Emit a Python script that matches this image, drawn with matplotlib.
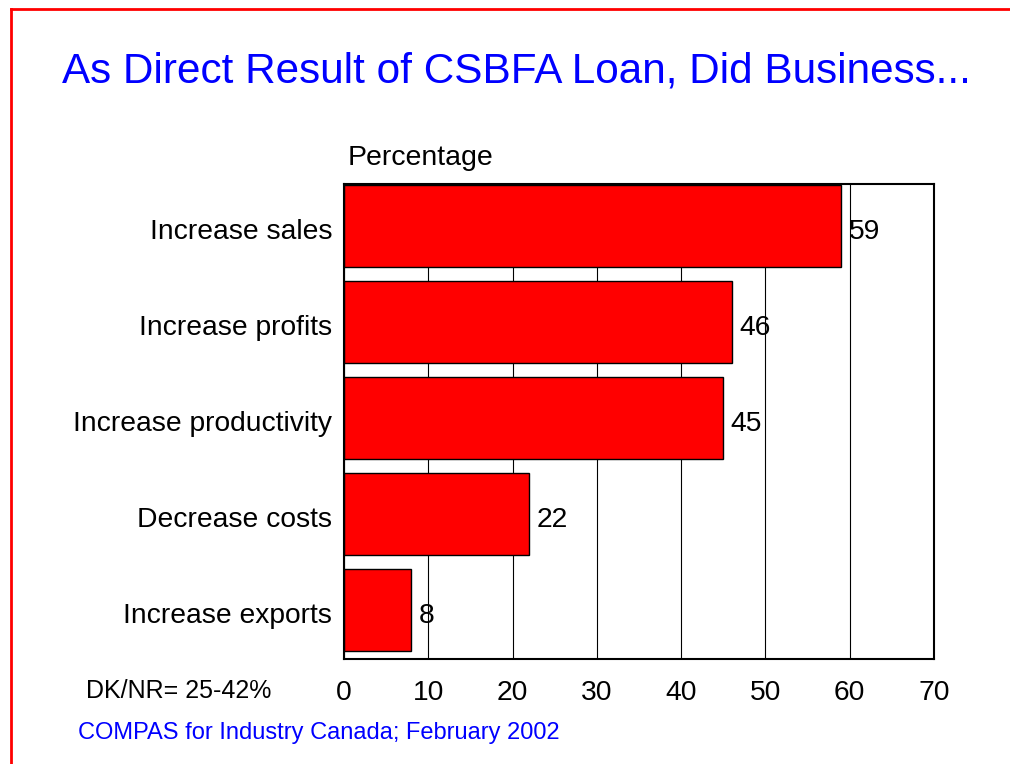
import matplotlib
matplotlib.use("Agg")
import matplotlib.pyplot as plt
from matplotlib.lines import Line2D
from matplotlib.transforms import ScaledTranslation

plt.rcParams['font.family'] = ['Liberation Sans', 'DejaVu Sans']

categories = ["Increase sales", "Increase profits", "Increase productivity",
              "Decrease costs", "Increase exports"]
values = [59, 46, 45, 22, 8]
xticks = [0, 10, 20, 30, 40, 50, 60, 70]

W, H = 1010, 764
fig = plt.figure(figsize=(W / 100, H / 100), dpi=100)

# page frame (top and left edges visible)
fig.add_artist(Line2D([11 / W, 11 / W], [0, 1 - 9 / H], color='red', lw=2,
                      transform=fig.transFigure))
fig.add_artist(Line2D([11 / W, 1], [1 - 9 / H, 1 - 9 / H], color='red', lw=2,
                      transform=fig.transFigure))

ax = fig.add_axes([344 / W, 1 - 659 / H, (934 - 344) / W, (659 - 184) / H])

# small downward nudge for text sitting next to the bars
nudge = ScaledTranslation(0, -3 / 100, fig.dpi_scale_trans)
label_shift = ScaledTranslation(-12 / 100, -3 / 100, fig.dpi_scale_trans)

pos = list(range(len(categories)))
ax.barh(pos, values, height=0.85, color='#ff0000', edgecolor='black',
        linewidth=1, zorder=3)
for p, v in zip(pos, values):
    ax.text(v + 0.9, p, f"{v}", va='center_baseline', ha='left', fontsize=20.3,
            zorder=4, transform=ax.transData + nudge)

# category labels to the left of the axes
for p, c in zip(pos, categories):
    ax.text(0, p, c, va='center_baseline', ha='right', fontsize=20.3,
            transform=ax.get_yaxis_transform() + label_shift, clip_on=False)

ax.set_xlim(0, 70)
ax.set_ylim(4.51, -0.44)
ax.set_xticks(xticks)
ax.set_xticklabels([str(t) for t in xticks], fontsize=20.3)
ax.set_yticks(pos)
ax.set_yticklabels([])
ax.tick_params(axis='both', length=0)
ax.tick_params(axis='x', pad=15)
ax.grid(axis='x', color='black', lw=0.8, zorder=1)
ax.set_axisbelow(True)
for s in ax.spines.values():
    s.set_linewidth(1.5)
    s.set_color('black')
    s.set_zorder(5)

fig.text(348 / W, 1 - 158 / H, "Percentage", fontsize=20.5, va='center', ha='left')
fig.text(62 / W, 1 - 72 / H, "As Direct Result of CSBFA Loan, Did Business...",
         fontsize=30.4, color='#0000ff', va='center', ha='left')
fig.text(86 / W, 1 - 691 / H, "DK/NR= 25-42%", fontsize=18, va='center', ha='left')
fig.text(78 / W, 1 - 733 / H, "COMPAS for Industry Canada; February 2002",
         fontsize=17, color='#0000ff', va='center', ha='left')

fig.savefig("out.png", dpi=100)
